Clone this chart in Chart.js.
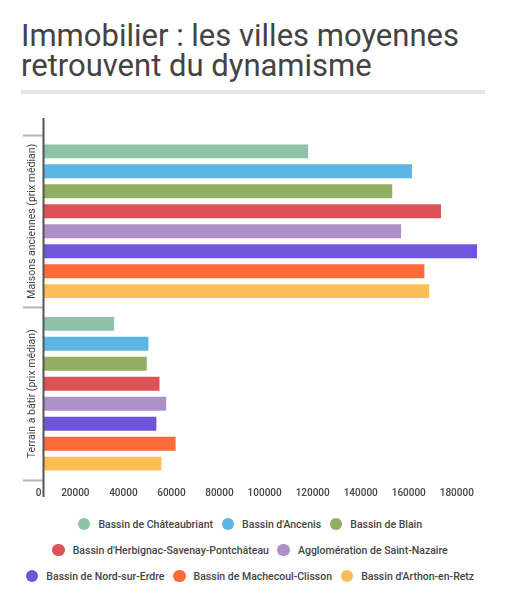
<!DOCTYPE html>
<html lang="fr">
<head>
<meta charset="utf-8">
<script src="https://cdn.jsdelivr.net/npm/chart.js@4"></script>
<style>
  body { margin: 0; background: #fff; font-family: Roboto, sans-serif; }
  .page { position: relative; width: 506px; height: 593px; overflow: hidden; }
  h1 { position: absolute; left: 21px; top: 21px; margin: 0; font-weight: 400; font-size: 31px; line-height: 30px; color: #434343; white-space: nowrap; }
  .rule { position: absolute; left: 21px; top: 90px; width: 464px; height: 4px; background: #e6e6e6; }
  .chart { position: absolute; left: 0; top: 100px; width: 506px; height: 405px; }
  #legend { position: absolute; left: 10px; top: 511px; width: 480px; display: flex; flex-wrap: wrap; justify-content: center; }
  .item { display: flex; align-items: center; height: 26px; margin: 0 4.3px; font-size: 10.5px; font-weight: 500; color: #444; white-space: nowrap; }
  .dot { width: 12.5px; height: 12.5px; border-radius: 50%; margin-right: 8px; }
</style>
</head>
<body>
<div class="page">
  <h1>Immobilier : les villes moyennes<br>retrouvent du dynamisme</h1>
  <div class="rule"></div>
  <div class="chart"><canvas id="immoChart"></canvas></div>
  <div id="legend"></div>
</div>
<script>
// Catégories (axe vertical)
const categories = ['Maisons anciennes (prix médian)', 'Terrain à bâtir (prix médian)'];

// Bassins (une série par bassin)
const bassins = [
  'Bassin de Châteaubriant',
  "Bassin d'Ancenis",
  'Bassin de Blain',
  "Bassin d'Herbignac-Savenay-Pontchâteau",
  'Agglomération de Saint-Nazaire',
  'Bassin de Nord-sur-Erdre',
  'Bassin de Machecoul-Clisson',
  "Bassin d'Arthon-en-Retz"
];
const couleurs = ['#8dc3a7', '#5db5e5', '#92ae62', '#dc5256', '#ac90c6', '#6e55d9', '#fe6a39', '#fbbd55'];

// Prix médians (euros)
const maisons = [110400, 153600, 145400, 165700, 149100, 180700, 158800, 160800];
const terrains = [29600, 43900, 43200, 48500, 51300, 47200, 55200, 49300];

// Graduations de l'axe horizontal
const xTicks = [0, 20000, 40000, 60000, 80000, 100000, 120000, 140000, 160000, 180000];
const xMax = 180700;

const datasets = bassins.map((nom, i) => ({
  label: nom,
  data: [maisons[i], terrains[i]],
  backgroundColor: couleurs[i],
  borderColor: 'rgba(255,255,255,0.45)',
  borderWidth: 1,
  barPercentage: 0.8,
  categoryPercentage: 0.926
}));

// Axe vertical prolongé + libellés de catégories pivotés
const axisPlugin = {
  id: 'axisPlugin',
  afterDraw(chart) {
    const ctx = chart.ctx;
    const area = chart.chartArea;
    const yScale = chart.scales.y;
    ctx.save();
    ctx.strokeStyle = '#555';
    ctx.lineWidth = 2;
    ctx.beginPath();
    ctx.moveTo(area.left - 0.5, area.top - 17);
    ctx.lineTo(area.left - 0.5, area.bottom + 17);
    ctx.stroke();

    ctx.fillStyle = '#444';
    ctx.font = '400 10.5px Roboto';
    ctx.textAlign = 'center';
    ctx.textBaseline = 'middle';
    categories.forEach((cat, i) => {
      ctx.save();
      ctx.translate(32, yScale.getPixelForValue(i));
      ctx.rotate(-Math.PI / 2);
      ctx.fillText(cat, 0, 0);
      ctx.restore();
    });
    ctx.restore();
  }
};

new Chart(document.getElementById('immoChart'), {
  type: 'bar',
  data: { labels: categories, datasets: datasets },
  options: {
    indexAxis: 'y',
    responsive: true,
    maintainAspectRatio: false,
    animation: false,
    layout: { padding: { top: 35, right: 28, left: 0, bottom: 0 } },
    plugins: {
      legend: { display: false },
      tooltip: { enabled: false }
    },
    scales: {
      x: {
        min: 0,
        max: xMax,
        grid: { display: false },
        border: { display: false },
        afterBuildTicks: (scale) => { scale.ticks = xTicks.map((v) => ({ value: v })); },
        ticks: {
          autoSkip: false,
          minRotation: 0,
          maxRotation: 0,
          align: 'end',
          padding: -1,
          color: '#444',
          font: { family: 'Roboto', size: 10, weight: '500' },
          callback: (v) => v + ' '
        },
        afterFit: (scale) => { scale.height = 25; }
      },
      y: {
        grid: {
          offset: true,
          drawOnChartArea: false,
          drawTicks: true,
          tickLength: 21,
          tickWidth: 2,
          tickColor: '#b3b3b3'
        },
        border: { display: false },
        ticks: { display: false },
        afterFit: (scale) => { scale.width = 44; }
      }
    }
  },
  plugins: [axisPlugin]
});

// Légende HTML
const legend = document.getElementById('legend');
bassins.forEach((nom, i) => {
  const item = document.createElement('div');
  item.className = 'item';
  const dot = document.createElement('span');
  dot.className = 'dot';
  dot.style.background = couleurs[i];
  item.appendChild(dot);
  item.appendChild(document.createTextNode(nom));
  legend.appendChild(item);
});
</script>
</body>
</html>
